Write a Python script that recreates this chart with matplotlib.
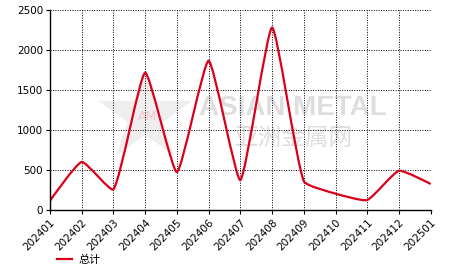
import matplotlib
matplotlib.use("Agg")
import matplotlib.pyplot as plt
from matplotlib.path import Path
import matplotlib.patches as patches
import numpy as np

months = ["202401", "202402", "202403", "202404", "202405", "202406", "202407",
          "202408", "202409", "202410", "202411", "202412", "202501"]
total = [115, 600, 258, 1715, 475, 1865, 375, 2280, 360, 205, 125, 490, 325]
y_ticks = [0, 500, 1000, 1500, 2000, 2500]


def smooth_path(ax, xs, ys, smooth=0.16):
    """Bezier path through the points (echarts-like smoothing, done in pixels)."""
    pts = ax.transData.transform(np.column_stack([xs, ys]))
    n = len(pts)
    verts = [tuple(pts[0])]
    codes = [Path.MOVETO]
    cp0 = pts[0]
    for i in range(1, n):
        p = pts[i]
        if i == n - 1:
            cp1 = p
            v = np.zeros(2)
            r = 0.5
        else:
            prev, nxt = pts[i - 1], pts[i + 1]
            v = nxt - prev
            l0 = np.hypot(*(p - prev))
            l1 = np.hypot(*(nxt - p))
            r = l1 / (l0 + l1)
            cp1 = p - v * smooth * (1 - r)
        verts += [tuple(cp0), tuple(cp1), tuple(p)]
        codes += [Path.CURVE4] * 3
        cp0 = p + v * smooth * r
    data = ax.transData.inverted().transform(np.array(verts))
    return Path(data, codes)


fig = plt.figure(figsize=(4.66, 2.72), dpi=100)
ax = fig.add_axes([50 / 466, 62 / 272, 380.7 / 466, 200 / 272])

x = list(range(len(months)))
ax.set_xlim(0, len(months) - 1)
ax.set_ylim(0, 2500)

# watermark
ax.scatter([0.25], [0.47], transform=ax.transAxes, marker="*", s=5000,
           color="#eeeeee", edgecolor="none", zorder=0)
ax.text(0.255, 0.465, "AM", transform=ax.transAxes, ha="center", va="center",
        fontsize=9, color="#f7c6ca", zorder=0)
ax.text(0.638, 0.51, "ASIAN METAL", transform=ax.transAxes, ha="center", va="center",
        fontsize=20, fontweight="bold", color="#dedede", family="Liberation Sans", zorder=0)
ax.text(0.641, 0.36, "亚洲金属网", transform=ax.transAxes, ha="center", va="center",
        fontsize=17, color="#dedede", family=["Noto Sans CJK SC", "DejaVu Sans"], zorder=0)

ax.add_patch(patches.PathPatch(smooth_path(ax, x, total), fill=False, edgecolor="#d9001b",
                               linewidth=1.6, zorder=3))
ax.plot([], [], color="#d9001b", linewidth=1.6, label="总计")

ax.set_xticks(x)
ax.set_xticklabels(months, rotation=45, ha="right", va="top", rotation_mode="anchor")
ax.set_yticks(y_ticks)
ax.tick_params(axis="both", labelsize=7.5, length=3, width=0.8, color="black", pad=2)
ax.grid(True, linestyle=(0, (1, 1.5)), color="black", linewidth=0.7)
ax.set_axisbelow(True)
for s in ["top", "right"]:
    ax.spines[s].set_visible(False)
for s in ["left", "bottom"]:
    ax.spines[s].set_linewidth(1.0)
    ax.spines[s].set_zorder(4)

leg = fig.legend(loc="lower left", bbox_to_anchor=(50 / 466, 0.0), frameon=False,
                 prop={"family": ["Noto Sans CJK SC", "DejaVu Sans"], "size": 8},
                 handlelength=1.4, handletextpad=0.6, borderaxespad=0.2)

fig.savefig("out.png", dpi=100)
